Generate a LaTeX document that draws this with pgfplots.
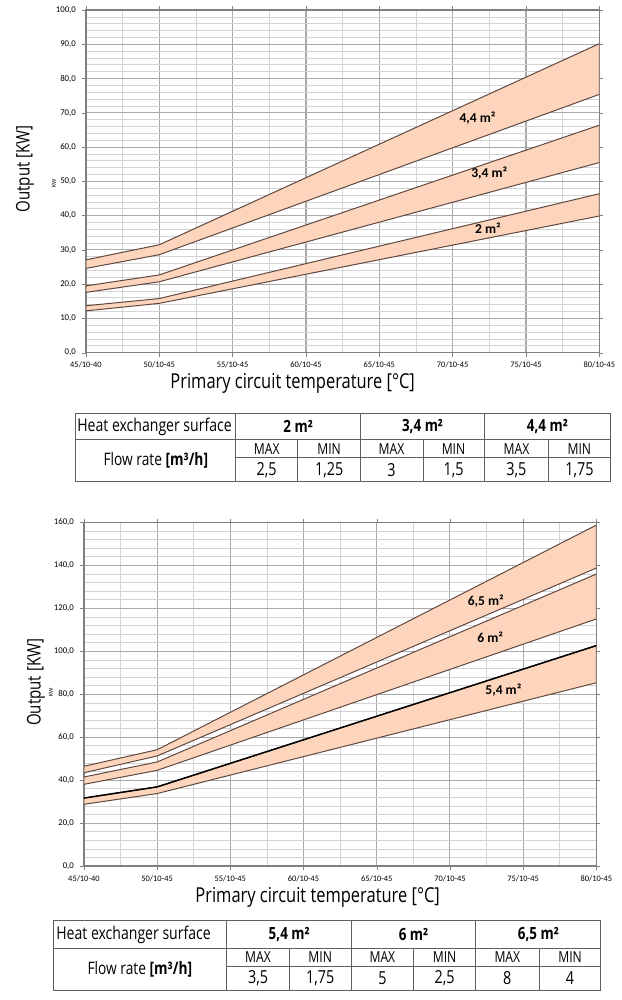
\documentclass[border=0pt]{standalone}
\usepackage{pgfplots}
\pgfplotsset{compat=1.18}
\usepackage{fontspec}
\setmainfont{Carlito}
\newfontfamily\cond[FakeStretch=0.8]{Open Sans}

\definecolor{peach}{RGB}{252,213,188}
\definecolor{edge}{RGB}{95,72,64}
\definecolor{gmaj}{RGB}{170,170,170}
\definecolor{gmin}{RGB}{212,212,212}
\definecolor{tline}{RGB}{95,95,95}

\tikzset{blab/.style={font=\bfseries\fontsize{6.8}{7}\selectfont}}
\pgfplotsset{
  chart/.style={
    scale only axis, anchor=south west,
    xmin=0, xmax=7, xtick={0,...,7},
    xticklabels={45/10-40,50/10-45,55/10-45,60/10-45,65/10-45,70/10-45,75/10-45,80/10-45},
    minor x tick num=1, minor y tick num=4,
    grid=both,
    major grid style={gmaj, line width=0.55pt},
    minor grid style={gmin, line width=0.4pt},
    axis line style={gray, line width=0.7pt},
    tick style={gray}, tick align=outside,
    major tick length=2pt, minor tick length=0pt,
    x tick label style={font=\fontsize{4.2}{5}\selectfont, yshift=1pt},
    y tick label style={font=\fontsize{4.4}{5}\selectfont, xshift=0.5pt},
    /pgf/number format/fixed, /pgf/number format/fixed zerofill,
    /pgf/number format/precision=1, /pgf/number format/use comma,
    /pgf/number format/assume math mode=true,
  },
  band/.style={fill=peach, draw=edge, line width=0.5pt},
}

\begin{document}
\begin{tikzpicture}
\begin{scope}[x=0.5pt,y=-0.5pt]
\path[use as bounding box] (0,0) rectangle (621,1000);
\end{scope}

% ---------- Chart 1 ----------
\begin{axis}[chart, at={(43pt,-176pt)}, width=257pt, height=171.5pt,
  ymin=0, ymax=100, ytick={0,10,...,100}]
\addplot[band] coordinates {(0,27.1) (1,31.5) (7,90.2) (7,75.4) (1,28.6) (0,24.6)} --cycle;
\addplot[band] coordinates {(0,19.5) (1,22.7) (7,66.4) (7,55.5) (1,20.7) (0,17.6)} --cycle;
\addplot[band] coordinates {(0,13.7) (1,15.8) (7,46.4) (7,39.9) (1,14.4) (0,12.2)} --cycle;
\node[blab] at (axis cs:5.34,68.5) {4,4 m²};
\node[blab] at (axis cs:5.5,52.5) {3,4 m²};
\node[blab] at (axis cs:5.48,36.4) {2 m²};
\end{axis}

% ---------- Chart 2 ----------
\begin{axis}[chart, at={(42pt,-433pt)}, width=256.5pt, height=172pt,
  ymin=0, ymax=160, ytick={0,20,...,160}]
\addplot[band] coordinates {(0,46.5) (1,54.2) (7,158.8) (7,138.8) (1,51.3) (0,43.5)} --cycle;
\addplot[band] coordinates {(0,41.5) (1,48.5) (7,136.0) (7,115.1) (1,44.6) (0,38.1)} --cycle;
\addplot[band] coordinates {(0,31.7) (1,36.9) (7,102.7) (7,85.4) (1,33.8) (0,28.8)} --cycle;
\addplot[black, line width=0.75pt] coordinates {(0,31.7) (1,36.9) (7,102.7)};
\node[blab] at (axis cs:5.49,123.6) {6,5 m²};
\node[blab] at (axis cs:5.55,106.6) {6 m²};
\node[blab] at (axis cs:5.73,81.8) {5,4 m²};
\end{axis}

\begin{scope}[x=0.5pt,y=-0.5pt]
% axis titles
\node[font=\cond\fontsize{10.3}{11}\selectfont] at (293,383) {Primary circuit temperature [°C]};
\node[font=\cond\fontsize{10.3}{11}\selectfont] at (318,897) {Primary circuit temperature [°C]};
\node[font=\cond\fontsize{9.4}{10}\selectfont, rotate=90] at (25,168) {Output [KW]};
\node[font=\cond\fontsize{9.4}{10}\selectfont, rotate=90] at (36,682) {Output [KW]};
\node[font=\fontsize{3}{3}\selectfont, rotate=90] at (54,182) {KW};
\node[font=\fontsize{3}{3}\selectfont, rotate=90] at (51,692) {KW};

% ---------- Table 1 ----------
\begin{scope}[tline, line width=0.5pt]
\draw (75.7,412.7) rectangle (611,481);
\draw (75.7,439.3) -- (611,439.3);
\draw (236,457.3) -- (611,457.3);
\draw (236,412.7) -- (236,481);
\draw (361,412.7) -- (361,481);
\draw (485,412.7) -- (485,481);
\draw (298,439.3) -- (298,481);
\draw (423.5,439.3) -- (423.5,481);
\draw (548.6,439.3) -- (548.6,481);
\end{scope}
\node[anchor=west, font=\cond\fontsize{8.8}{9}\selectfont, inner sep=0pt] at (77,426) {Heat exchanger surface};
\node[font=\cond\fontsize{8.6}{9}\selectfont] at (156,460) {Flow rate \textbf{[m³/h]}};
\foreach \x/\t in {298.5/2 m², 423/{3,4 m²}, 548/{4,4 m²}}
  \node[font=\cond\bfseries\fontsize{8.4}{9}\selectfont] at (\x,426) {\t};
\foreach \x/\t in {267/MAX, 329.5/MIN, 392/MAX, 454/MIN, 517/MAX, 580/MIN}
  \node[font=\cond\fontsize{7.6}{8}\selectfont] at (\x,448.5) {\t};
\foreach \x/\t in {267/{2,5}, 329.5/{1,25}, 392/3, 454/{1,5}, 517/{3,5}, 580/{1,75}}
  \node[font=\cond\fontsize{9}{9}\selectfont] at (\x,469.5) {\t};

% ---------- Table 2 ----------
\begin{scope}[tline, line width=0.5pt]
\draw (53.8,920.7) rectangle (601.6,990);
\draw (53.8,948.3) -- (601.6,948.3);
\draw (227,966.7) -- (601.6,966.7);
\draw (227,920.7) -- (227,990);
\draw (351.4,920.7) -- (351.4,990);
\draw (476,920.7) -- (476,990);
\draw (289.6,948.3) -- (289.6,990);
\draw (414.3,948.3) -- (414.3,990);
\draw (539.8,948.3) -- (539.8,990);
\end{scope}
\node[anchor=west, font=\cond\fontsize{8.8}{9}\selectfont, inner sep=0pt] at (56,934.5) {Heat exchanger surface};
\node[font=\cond\fontsize{8.6}{9}\selectfont] at (140,969) {Flow rate \textbf{[m³/h]}};
\foreach \x/\t in {289.5/{5,4 m²}, 414/6 m², 539/{6,5 m²}}
  \node[font=\cond\bfseries\fontsize{8.4}{9}\selectfont] at (\x,934.5) {\t};
\foreach \x/\t in {258.3/MAX, 320.5/MIN, 382.8/MAX, 445.1/MIN, 507.9/MAX, 570.7/MIN}
  \node[font=\cond\fontsize{7.6}{8}\selectfont] at (\x,957.5) {\t};
\foreach \x/\t in {258.3/{3,5}, 320.5/{1,75}, 382.8/5, 445.1/{2,5}, 507.9/8, 570.7/4}
  \node[font=\cond\fontsize{9}{9}\selectfont] at (\x,978.5) {\t};
\end{scope}
\end{tikzpicture}
\end{document}
